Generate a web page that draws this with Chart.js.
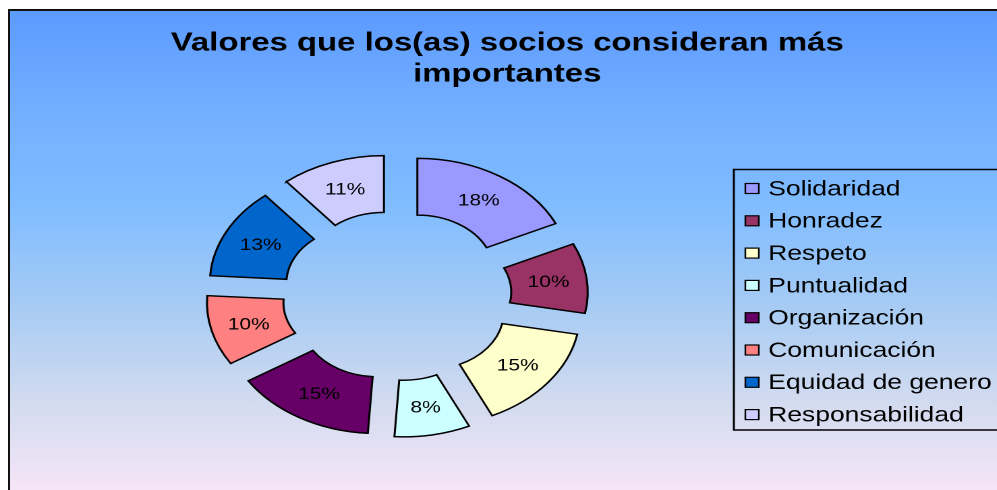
<!DOCTYPE html>
<html lang="es">
  <head>
    <meta charset="utf-8" />
    <title>Valores que los(as) socios consideran más importantes</title>
    <style>
      * {
        margin: 0;
        padding: 0;
      }
      body {
        width: 997px;
        height: 490px;
        overflow: hidden;
        background: #fff;
        position: relative;
      }
      .frame {
        position: absolute;
        left: 8px;
        top: 9px;
        width: 1000px;
        height: 490px;
        border: 2.5px solid #111;
        background: linear-gradient(
          to bottom,
          #5c9bff 0%,
          #74b0ff 22%,
          #80bcff 40%,
          #a6cbf4 60%,
          #d2dbef 80%,
          #fae6f8 100%
        );
      }
      /* the picture is stretched sideways, so the chart is drawn narrow and scaled */
      .stretch {
        position: absolute;
        left: 0;
        top: 0;
        width: 739px;
        height: 490px;
        transform: scaleX(1.349);
        transform-origin: 0 0;
      }
    </style>
  </head>
  <body>
    <div class="frame"></div>
    <div class="stretch">
      <canvas id="myChart" width="739" height="490"></canvas>
    </div>

    <script src="https://cdn.jsdelivr.net/npm/chart.js@4.4.0/dist/chart.umd.min.js"></script>

    <script>
      // data block
      const categories = [
        "Solidaridad",
        "Honradez",
        "Respeto",
        "Puntualidad",
        "Organización",
        "Comunicación",
        "Equidad de genero",
        "Responsabilidad",
      ];
      const shares = [18, 10, 15, 8, 15, 10, 13, 11];
      const sliceColors = [
        "#9999FF",
        "#993366",
        "#FFFFCC",
        "#CCFFFF",
        "#660066",
        "#FF8080",
        "#0066CC",
        "#CCCCFF",
      ];
      const titleLines = ["Valores que los(as) socios consideran más", "importantes"];

      const EXPLODE = 28.3;

      // text a bit taller than wide, as in the stretched original
      function tallText(ctx, text, x, y, k) {
        ctx.save();
        ctx.translate(x, y);
        ctx.scale(1, k);
        ctx.fillText(text, 0, 0);
        ctx.restore();
      }

      // move every slice out along its middle angle, like an exploded Excel doughnut
      const explode = {
        id: "explode",
        beforeDatasetsDraw(chart) {
          chart.getDatasetMeta(0).data.forEach((arc) => {
            if (arc._exploded) return;
            arc._exploded = true;
            const baseDraw = arc.draw;
            arc.draw = function (ctx) {
              const mid = (this.startAngle + this.endAngle) / 2;
              ctx.save();
              ctx.translate(Math.cos(mid) * EXPLODE, Math.sin(mid) * EXPLODE);
              baseDraw.call(this, ctx);
              ctx.restore();
            };
          });
        },
      };

      const sliceLabels = {
        id: "sliceLabels",
        afterDatasetsDraw(chart) {
          const { ctx } = chart;
          const values = chart.data.datasets[0].data;
          ctx.save();
          ctx.font = "15.5px 'Liberation Sans', Arial, sans-serif";
          ctx.fillStyle = "#000";
          ctx.textAlign = "center";
          ctx.textBaseline = "middle";
          chart.getDatasetMeta(0).data.forEach((arc, i) => {
            const mid = (arc.startAngle + arc.endAngle) / 2;
            const r = (arc.innerRadius + arc.outerRadius) / 2 + EXPLODE;
            tallText(ctx, values[i] + "%", arc.x + Math.cos(mid) * r, arc.y + Math.sin(mid) * r + 1, 1.06);
          });
          ctx.restore();
        },
      };

      const titleAndLegend = {
        id: "titleAndLegend",
        afterDraw(chart) {
          const { ctx } = chart;
          ctx.save();

          // title
          ctx.font = "bold 24.4px 'Liberation Sans', Arial, sans-serif";
          ctx.fillStyle = "#000";
          ctx.textAlign = "center";
          ctx.textBaseline = "alphabetic";
          tallText(ctx, titleLines[0], 376, 50.5, 1.05);
          tallText(ctx, titleLines[1], 376, 81.5, 1.05);

          // legend box
          ctx.lineWidth = 1.5;
          ctx.strokeStyle = "#000";
          ctx.strokeRect(544, 169.5, 260, 260.5);

          ctx.font = "19.6px 'Liberation Sans', Arial, sans-serif";
          ctx.textAlign = "left";
          ctx.textBaseline = "middle";
          categories.forEach((name, i) => {
            const y = 188.5 + i * 32.3;
            ctx.fillStyle = sliceColors[i];
            ctx.fillRect(552.5, y - 5, 10, 10);
            ctx.lineWidth = 1.2;
            ctx.strokeRect(552.5, y - 5, 10, 10);
            ctx.fillStyle = "#000";
            tallText(ctx, name, 569.5, y + 1, 1.1);
          });
          ctx.restore();
        },
      };

      // config block
      const config = {
        type: "doughnut",
        data: {
          labels: categories,
          datasets: [
            {
              data: shares,
              backgroundColor: sliceColors,
              borderColor: "#000",
              borderWidth: 1.5,
              borderJoinStyle: "miter",
            },
          ],
        },
        options: {
          responsive: false,
          animation: false,
          devicePixelRatio: 2,
          radius: 113.4,
          cutout: "50%",
          layout: {
            padding: { left: 0, right: 150.6, top: 101.4, bottom: 0 },
          },
          plugins: {
            legend: { display: false },
            title: { display: false },
            tooltip: { enabled: false },
          },
        },
        plugins: [explode, sliceLabels, titleAndLegend],
      };

      // init render block
      const myChart = new Chart(document.getElementById("myChart"), config);
    </script>
  </body>
</html>
